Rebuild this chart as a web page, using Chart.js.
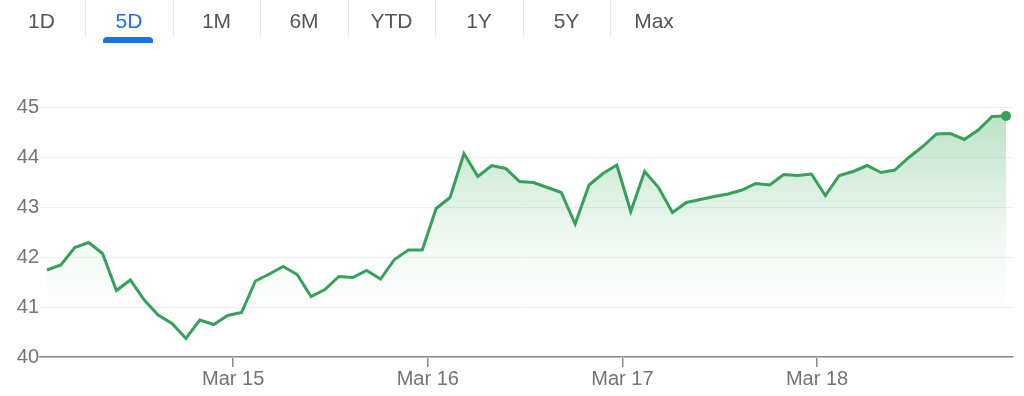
<!DOCTYPE html>
<html lang="en">
<head>
<meta charset="UTF-8">
<title>5D price chart</title>
<script src="https://cdn.jsdelivr.net/npm/chart.js"></script>
<style>
  body { margin: 0; background: #fff; font-family: "Liberation Sans", Arial, sans-serif; }
  #wrap { position: relative; width: 1024px; height: 396px; overflow: hidden; }
  #chart { position: absolute; top: 0; left: 0; }
  #tabs { position: absolute; top: 0; left: 0; width: 1024px; height: 50px; z-index: 2; }
  .tab { position: absolute; top: 7px; width: 86px; margin-left: -43px; text-align: center;
         font-size: 21px; line-height: 28px; color: #555; }
  .tab.on { color: #1a73e8; }
  .sep { position: absolute; top: 0; width: 1px; height: 36px; background: #e8e8e8; }
  .bar { position: absolute; top: 37px; width: 50px; height: 6px;
         background: #1a73e8; border-radius: 4px 4px 0 0; }
</style>
</head>
<body>
<div id="wrap">
  <canvas id="chart" width="1024" height="396"></canvas>
  <div id="tabs"></div>
</div>

<script>
  // range selector
  const tabNames = ['1D', '5D', '1M', '6M', 'YTD', '1Y', '5Y', 'Max'];
  const activeTab = '5D';

  // x ticks: one label per trading day, placed at a point index
  const dayLabels = ['Mar 15', 'Mar 16', 'Mar 17', 'Mar 18'];
  const dayTickIndex = [13.4, 27.4, 41.4, 55.4];

  // prices, one point every 30 minutes
  const prices = [
    41.74, 41.84, 42.19, 42.29, 42.07, 41.33, 41.54, 41.14, 40.84, 40.67,
    40.37, 40.74, 40.65, 40.83, 40.89, 41.52, 41.66, 41.81, 41.65, 41.21,
    41.35, 41.61, 41.59, 41.73, 41.56, 41.95, 42.14, 42.14, 42.97, 43.19,
    44.07, 43.61, 43.83, 43.77, 43.51, 43.49, 43.39, 43.29, 42.66, 43.44,
    43.67, 43.84, 42.91, 43.71, 43.39, 42.89, 43.09, 43.15, 43.21, 43.26,
    43.34, 43.47, 43.44, 43.65, 43.63, 43.66, 43.23, 43.63, 43.71, 43.83,
    43.69, 43.74, 43.99, 44.21, 44.46, 44.47, 44.35, 44.54, 44.81, 44.82
  ];

  const yTicks = [40, 41, 42, 43, 44, 45];

  // tabs
  const tabs = document.getElementById('tabs');
  tabNames.forEach((name, i) => {
    const cx = 41.5 + i * 87.5;
    const t = document.createElement('div');
    t.className = 'tab' + (name === activeTab ? ' on' : '');
    t.style.left = cx + 'px';
    t.textContent = name;
    tabs.appendChild(t);
    if (i < tabNames.length - 1) {
      const s = document.createElement('div');
      s.className = 'sep';
      s.style.left = Math.round(cx + 43.5) + 'px';
      tabs.appendChild(s);
    }
    if (name === activeTab) {
      const b = document.createElement('div');
      b.className = 'bar';
      b.style.left = Math.round(cx - 26) + 'px';
      tabs.appendChild(b);
    }
  });

  const green = '#37a05a';
  const greyText = '#70757a';
  const tickFont = { family: '"Liberation Sans", Arial, sans-serif', size: 20 };

  const ctx = document.getElementById('chart').getContext('2d');
  const chart = new Chart(ctx, {
    type: 'line',
    data: {
      datasets: [{
        data: prices.map((v, i) => ({ x: i, y: v })),
        borderColor: green,
        borderWidth: 3,
        tension: 0,
        pointRadius: prices.map((v, i) => i === prices.length - 1 ? 5 : 0),
        pointBackgroundColor: green,
        pointBorderWidth: 0,
        fill: 'start',
        backgroundColor: (c) => {
          const area = c.chart.chartArea;
          if (!area) return 'rgba(0,0,0,0)';
          const g = c.chart.ctx.createLinearGradient(0, area.top, 0, area.bottom);
          g.addColorStop(0, 'rgba(52,168,83,0.34)');
          g.addColorStop(0.55, 'rgba(52,168,83,0.06)');
          g.addColorStop(0.85, 'rgba(52,168,83,0)');
          return g;
        }
      }]
    },
    options: {
      responsive: false,
      animation: false,
      devicePixelRatio: 1,
      layout: { padding: { top: 107, right: 11, bottom: 5, left: 0 } },
      plugins: { legend: { display: false }, tooltip: { enabled: false } },
      events: [],
      scales: {
        x: {
          type: 'linear',
          min: -0.5,
          max: 69.5,
          afterBuildTicks: (scale) => {
            scale.ticks = dayTickIndex.map(v => ({ value: v }));
          },
          ticks: {
            autoSkip: false,
            maxRotation: 0,
            padding: 0,
            color: greyText,
            font: tickFont,
            callback: (value) => dayLabels[dayTickIndex.indexOf(value)]
          },
          grid: { drawOnChartArea: false, drawTicks: true, tickLength: 10, color: '#8a8a8a', lineWidth: 1.5 },
          border: { display: true, color: '#8a8a8a', width: 1.5 }
        },
        y: {
          min: 40,
          max: 45,
          afterBuildTicks: (scale) => {
            scale.ticks = yTicks.map(v => ({ value: v }));
          },
          afterFit: (scale) => { scale.width = 40; },
          ticks: {
            padding: 1,
            color: greyText,
            font: tickFont
          },
          grid: { drawTicks: false, color: '#efefef', lineWidth: 1 },
          border: { display: false }
        }
      }
    }
  });
</script>
</body>
</html>
